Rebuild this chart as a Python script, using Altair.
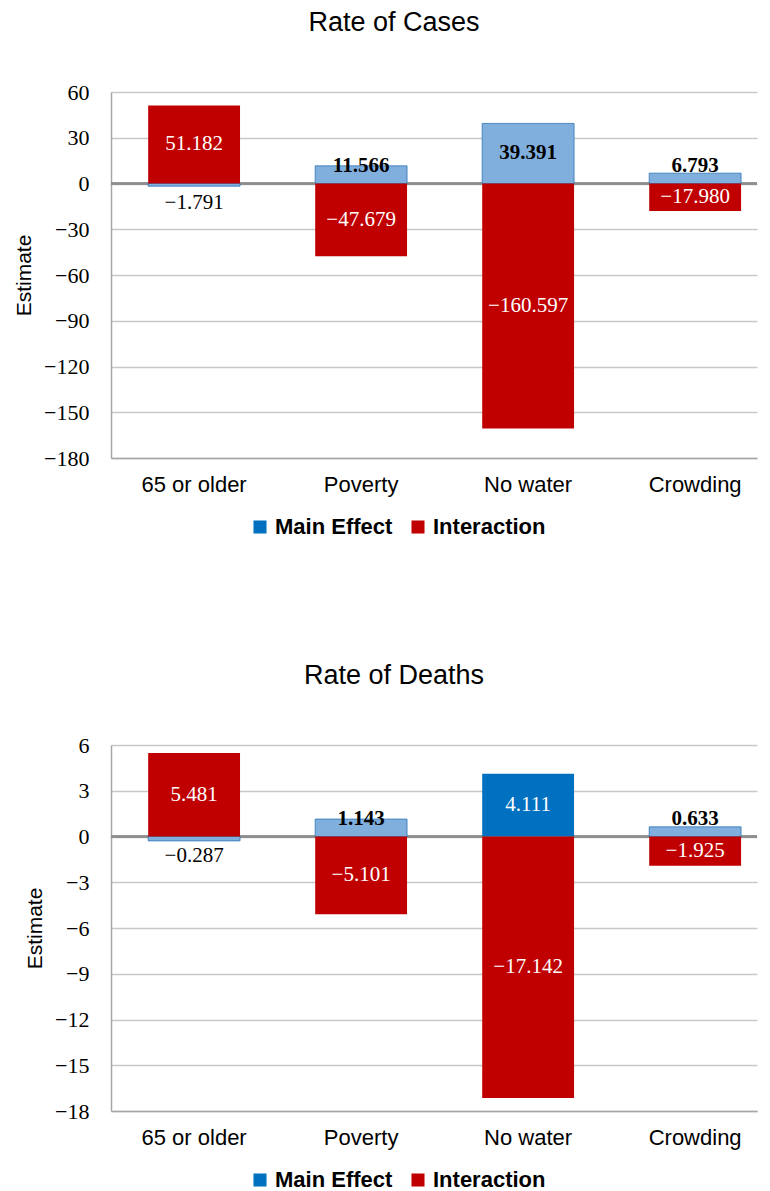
import altair as alt
import pandas as pd

categories = ["65 or older", "Poverty", "No water", "Crowding"]
series_names = ["Main Effect", "Interaction"]

cases_main = [-1.791, 11.566, 39.391, 6.793]
cases_inter = [51.182, -47.679, -160.597, -17.980]
cases_main_solid = [False, False, False, False]
cases_ticks = [60, 30, 0, -30, -60, -90, -120, -150, -180]

deaths_main = [-0.287, 1.143, 4.111, 0.633]
deaths_inter = [5.481, -5.101, -17.142, -1.925]
deaths_main_solid = [False, False, True, False]
deaths_ticks = [6, 3, 0, -3, -6, -9, -12, -15, -18]

BLUE = "#0070C0"
RED = "#C00000"
HATCH = "#80AFDE"
W, H = 646, 366


def build_df(main, inter, solid, span):
    rows = []
    for c, m, i, s in zip(categories, main, inter, solid):
        for name, v, sol in ((series_names[0], m, s), (series_names[1], i, True)):
            big = abs(v) / span > 0.15 or name == series_names[1]
            if big:
                pos = "in"
            else:
                pos = "up" if v > 0 else "down"
            rows.append(dict(cat=c, series=name, value=v, solid=sol,
                             mid=v / 2, pos=pos,
                             white=bool(big and sol)))
    return pd.DataFrame(rows)


def panel(title, main, inter, solid, ticks):
    lo, hi = min(ticks), max(ticks)
    df = build_df(main, inter, solid, hi - lo)
    base = alt.Chart(df)
    xscale = alt.Scale(paddingInner=0.45, paddingOuter=0.159, align=0.7)
    xenc = alt.X("cat:N", sort=categories, title=None, scale=xscale,
                 axis=alt.Axis(labelAngle=0, labelFont="Liberation Sans", labelFontSize=22,
                               labelColor="#000000", labelPadding=16, ticks=False,
                               domainColor="#A6A6A6", domainWidth=1.5, grid=False))
    yscale = alt.Scale(domain=[lo, hi], nice=False, zero=False)
    yaxis = alt.Axis(values=ticks, format="d", title="Estimate", titleFont="Liberation Sans",
                     titleFontSize=21, titleFontWeight="normal", titleColor="#000000",
                     titlePadding=9, labelFont="Liberation Serif", labelFontSize=22,
                     labelColor="#000000", labelPadding=22, ticks=False, tickSize=0,
                     domainColor="#A6A6A6", domainWidth=1.5, grid=True,
                     gridColor="#C8C8C8", gridWidth=1.5)

    zero = base.mark_rule(color="#8C8C8C", strokeWidth=1.5).encode(
        y=alt.datum(0, scale=yscale, axis=yaxis))

    bars = base.mark_bar().encode(
        x=xenc,
        y=alt.Y("value:Q", stack=None, scale=yscale, axis=yaxis),
        fill=alt.condition(
            "datum.solid",
            alt.Fill("series:N", sort=series_names,
                     scale=alt.Scale(domain=series_names, range=[BLUE, RED]),
                     legend=alt.Legend(title=None, orient="none", legendX=138, legendY=424,
                                       direction="horizontal", symbolType="square",
                                       symbolSize=170, symbolStrokeWidth=0,
                                       labelFont="Liberation Sans", labelFontSize=22,
                                       labelFontWeight="bold", labelColor="#000000",
                                       labelOffset=4, columnPadding=14)),
            alt.value(HATCH)),
        stroke=alt.value("#2E75B6"),
        strokeWidth=alt.condition("datum.solid", alt.value(0), alt.value(0.8)),
    )

    txt = dict(font="Liberation Serif", fontSize=21, baseline="middle", align="center")
    xt = alt.X("cat:N", sort=categories, scale=xscale)
    t_white = base.transform_filter("datum.pos == 'in' && datum.white").mark_text(
        color="#FFFFFF", **txt).encode(
        x=xt, y=alt.Y("mid:Q"), text=alt.Text("value:Q", format=".3f"))
    t_black_in = base.transform_filter("datum.pos == 'in' && !datum.white").mark_text(
        color="#000000", fontWeight="bold", **txt).encode(
        x=xt, y=alt.Y("mid:Q"), text=alt.Text("value:Q", format=".3f"))
    t_up = base.transform_filter("datum.pos == 'up'").mark_text(
        color="#000000", fontWeight="bold", dy=-18, **txt).encode(
        x=xt, y=alt.datum(0), text=alt.Text("value:Q", format=".3f"))
    t_down = base.transform_filter("datum.pos == 'down'").mark_text(
        color="#000000", dy=19, **txt).encode(
        x=xt, y=alt.datum(0), text=alt.Text("value:Q", format=".3f"))

    return alt.layer(zero, bars, t_white, t_black_in, t_up, t_down).properties(
        width=W, height=H,
        title=alt.TitleParams(title, font="Liberation Sans", fontSize=27,
                              fontWeight="normal", color="#000000", offset=44,
                              anchor="middle", dx=-40))


top = panel("Rate of Cases", cases_main, cases_inter, cases_main_solid, cases_ticks)
bottom = panel("Rate of Deaths", deaths_main, deaths_inter, deaths_main_solid, deaths_ticks)

chart = alt.vconcat(top, bottom, spacing=124).resolve_scale(
    fill="independent").resolve_legend(fill="independent").properties(
    padding={"left": 5, "top": 1, "right": 0, "bottom": 0},
    background="#FFFFFF"
).configure_view(stroke=None, strokeWidth=0).configure_axisX(grid=False)

chart.save("out.html", embed_options={"renderer": "svg", "actions": False})
